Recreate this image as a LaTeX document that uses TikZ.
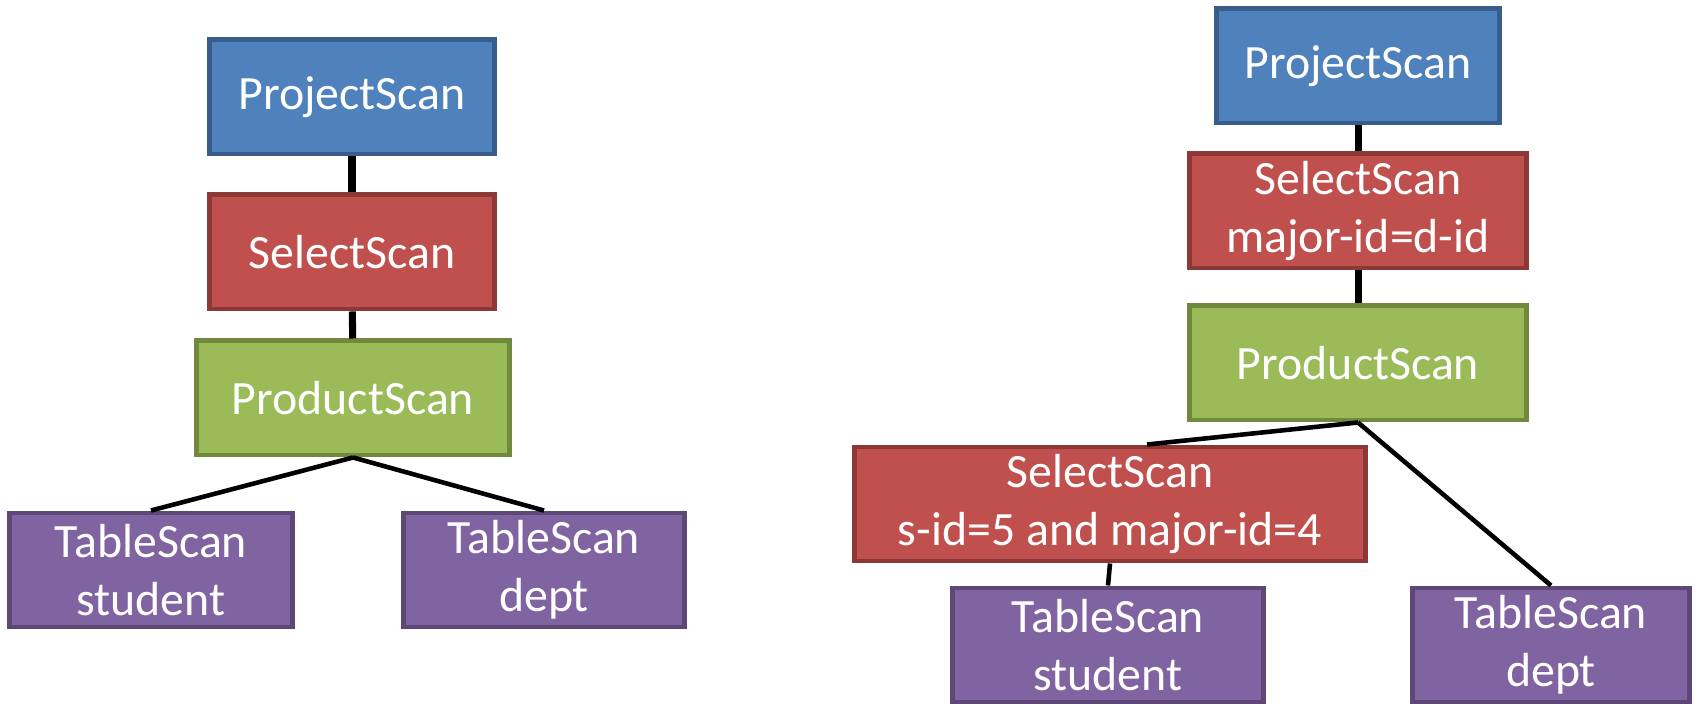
\documentclass[tikz,border=0pt]{standalone}
\usepackage{fontspec}
\setmainfont{Carlito}
\usetikzlibrary{positioning}
\definecolor{projfill}{HTML}{4F81BD}
\definecolor{projline}{HTML}{385D8A}
\definecolor{selfill}{HTML}{C0504D}
\definecolor{selline}{HTML}{8C3836}
\definecolor{prodfill}{HTML}{9BBB59}
\definecolor{prodline}{HTML}{71893F}
\definecolor{tabfill}{HTML}{8064A2}
\definecolor{tabline}{HTML}{5C4776}
\tikzset{
  scannode/.style = {rectangle, align=center, inner sep=0pt, text=white,
    line width=1.4pt, minimum height=1.14cm, minimum width=#1,
    font=\fontsize{13.6}{16.4}\selectfont},
  projnode/.style = {scannode=#1, fill=projfill, draw=projline},% project
  selnode/.style = {scannode=#1, fill=selfill, draw=selline},% select
  prodnode/.style = {scannode=#1, fill=prodfill, draw=prodline},% product
  tabnode/.style = {scannode=#1, fill=tabfill, draw=tabline},% table
  scanedge/.style = {line width=2pt, black},% straight down
  forkedge/.style = {line width=1.3pt, black}% slanted
}
\begin{document}
\begin{tikzpicture}[x=0.01cm, y=-0.01cm]
\useasboundingbox (0,0) rectangle (1700,704);
% left plan
\node [projnode=2.84cm] (lproj) at (352,97) {ProjectScan};
\node [selnode=2.84cm] (lsel) at (352,252) {SelectScan};
\node [prodnode=3.12cm] (lprod) at (353,398) {ProductScan};
\node [tabnode=2.82cm] (lstud) at (151,570) {TableScan\\student};
\node [tabnode=2.80cm] (ldept) at (544,570) {TableScan\\dept};
\draw [scanedge] (lproj) -- (lsel);
\draw [scanedge] (lsel) -- (lprod);
\draw [forkedge] (lprod.south) -- (lstud.north);
\draw [forkedge] (lprod.south) -- (ldept.north);
% right plan
\node [projnode=2.83cm] (rproj) at (1358,66) {ProjectScan};
\node [selnode=3.36cm] (rsel) at (1358,211) {SelectScan\\major-id=d-id};
\node [prodnode=3.36cm] (rprod) at (1358,363) {ProductScan};
\node [selnode=5.11cm] (rsel2) at (1110,504) {SelectScan\\s-id=5 and major-id=4};
\node [tabnode=3.11cm] (rstud) at (1108,645) {TableScan\\student};
\node [tabnode=2.77cm] (rdept) at (1551,645) {TableScan\\dept};
\draw [scanedge] (rproj) -- (rsel);
\draw [scanedge] (rsel) -- (rprod);
\draw [forkedge] (rprod.south) -- (rsel2.58);
\draw [forkedge] (rprod.south) -- (rdept.north);
\draw [forkedge] (rsel2.south) -- (rstud.north);
\end{tikzpicture}
\end{document}
